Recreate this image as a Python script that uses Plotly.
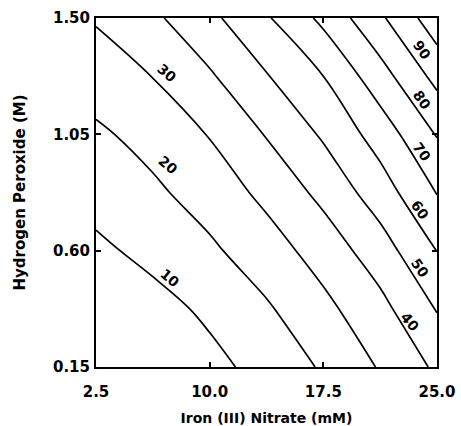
import plotly.graph_objects as go

# Data
iron_nitrate_mM = [2.5, 6.25, 10.0, 13.75, 17.5, 21.25, 25.0]
hydrogen_peroxide_M = [0.15, 0.375, 0.60, 0.825, 1.05, 1.275, 1.50]
# estimated response values on the grid (rows follow hydrogen_peroxide_M)
response_z = [
    [-4.0, 1.4, 7.1, 13.5, 21.1, 30.8, 41.7],
    [1.0, 6.3, 12.0, 18.8, 27.4, 37.0, 50.6],
    [7.8, 13.0, 18.3, 25.5, 34.2, 45.4, 60.2],
    [14.0, 18.2, 24.3, 32.5, 42.7, 55.1, 70.4],
    [18.3, 23.5, 30.5, 40.6, 51.3, 64.4, 80.6],
    [24.9, 30.2, 38.8, 49.4, 60.0, 75.9, 93.1],
    [30.9, 38.1, 47.6, 58.9, 72.4, 88.3, 105.9],
]
contour_levels = [10, 20, 30, 40, 50, 60, 70, 80, 90, 100]
labelled_levels = ["10", "20", "30", "40", "50", "60", "70", "80", "90"]
x_tick_vals = [2.5, 10.0, 17.5, 25.0]
x_tick_text = ["2.5", "10.0", "17.5", "25.0"]
y_tick_vals = [0.15, 0.60, 1.05, 1.50]
y_tick_text = ["0.15", "0.60", "1.05", "1.50"]

# contour label placement (layout): x, y, angle
label_pos = [
    (7.38, 0.494, 40), (7.25, 0.931, 40), (7.18, 1.287, 40),
    (23.22, 0.324, 50), (23.88, 0.533, 55), (23.88, 0.757, 55),
    (24.01, 0.982, 55), (24.01, 1.183, 55), (24.01, 1.376, 55),
]

FONT = "DejaVu Sans"

fig = go.Figure()
fig.add_trace(go.Contour(
    x=iron_nitrate_mM, y=hydrogen_peroxide_M, z=response_z,
    contours=dict(start=contour_levels[0], end=contour_levels[-1], size=10,
                  coloring="lines", showlabels=False),
    colorscale=[[0, "black"], [1, "black"]],
    line=dict(color="black", width=1.7, smoothing=1),
    showscale=False, hoverinfo="skip",
))

for txt, (lx, ly, ang) in zip(labelled_levels, label_pos):
    fig.add_annotation(x=lx, y=ly, text="<b>%s</b>" % txt, showarrow=False,
                       textangle=ang, font=dict(family=FONT, size=14, color="black"))

axis_common = dict(showline=True, linecolor="black", linewidth=2, mirror="ticks",
                   ticks="inside", ticklen=5, tickwidth=1.5, tickcolor="black",
                   showgrid=False, zeroline=False, automargin=False,
                   tickfont=dict(family=FONT, size=15, color="black"))

fig.update_layout(
    width=461, height=426,
    margin=dict(l=96, r=24, t=18, b=59),
    paper_bgcolor="white", plot_bgcolor="white",
    showlegend=False,
    xaxis=dict(range=[2.5, 25.0], tickvals=x_tick_vals,
               ticktext=["<b>%s</b>" % t for t in x_tick_text],
               ticklabelstandoff=10,
               title=dict(text="<b>Iron (III) Nitrate (mM)</b>", standoff=13,
                          font=dict(family=FONT, size=14, color="black")),
               **axis_common),
    yaxis=dict(range=[0.15, 1.50], tickvals=y_tick_vals,
               ticktext=["<b>%s</b>" % t for t in y_tick_text],
               ticklabelstandoff=1,
               title=dict(text="<b>Hydrogen Peroxide (M)</b>", standoff=24,
                          font=dict(family=FONT, size=15, color="black")),
               **axis_common),
)

fig.write_html("out.html")
